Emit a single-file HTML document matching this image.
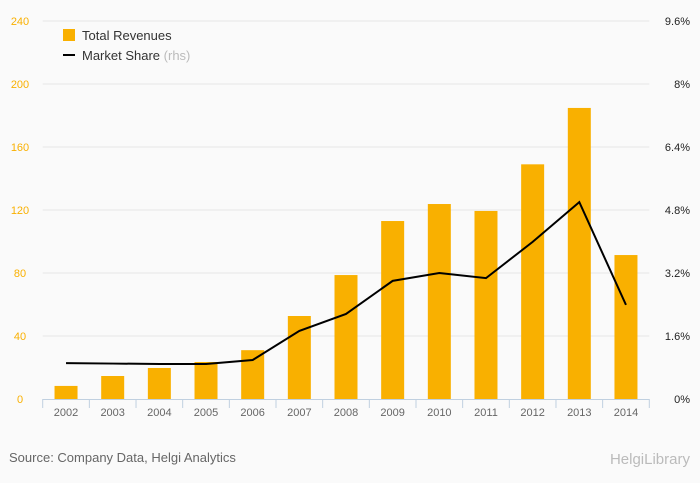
<!DOCTYPE html>
<html><head><meta charset="utf-8"><style>
body{margin:0;background:#fafafa;}
svg{display:block;font-family:"Liberation Sans",sans-serif;}
</style></head><body>
<svg id="chart" width="700" height="483">
<rect width="700" height="483" fill="#fafafa"/>
<g id="grid"></g><g id="bars"></g><g id="line"></g><g id="axes"></g>
<g>
<rect x="63" y="29" width="12" height="12" fill="#f9b000"/>
<text x="82" y="40" font-size="13" fill="#333">Total Revenues</text>
<rect x="63" y="54" width="12" height="2" fill="#000"/>
<text x="82" y="60" font-size="13" fill="#333">Market Share <tspan fill="#bbb">(rhs)</tspan></text>
</g>
<text x="9" y="462" font-size="13" fill="#666">Source: Company Data, Helgi Analytics</text>
<text x="690" y="464" font-size="15" fill="#bbb" text-anchor="end">HelgiLibrary</text>
</svg>
<script>
const categories=["2002","2003","2004","2005","2006","2007","2008","2009","2010","2011","2012","2013","2014"];
const revenues=[8.3,14.6,19.7,23.5,31,52.7,78.7,113,123.8,119.4,149,184.8,91.4];
const marketShare=[0.91,0.90,0.89,0.89,0.99,1.73,2.16,3.0,3.2,3.07,3.99,5.0,2.39];
const leftTicks=[0,40,80,120,160,200,240];
const rightTicks=["0%","1.6%","3.2%","4.8%","6.4%","8%","9.6%"];
const NS="http://www.w3.org/2000/svg";
const x0=42.7,x1=649.3,y0=399,y1=21;
const band=(x1-x0)/categories.length;
const xC=i=>x0+band*(i+0.5);
const yL=v=>y0-(v/240)*(y0-y1);
const yR=v=>y0-(v/9.6)*(y0-y1);
function mk(tag,attrs,parent){const e=document.createElementNS(NS,tag);for(const k in attrs)e.setAttribute(k,attrs[k]);document.getElementById(parent).appendChild(e);return e;}
leftTicks.forEach((t,i)=>{
  const y=yL(t);
  if(i>0){const g=mk('line',{x1:x0,x2:x1,y1:y,y2:y,stroke:'#e6e6e6','stroke-width':1},'grid');
  
  }
  const l=mk('text',{x:20,y:y+4,'font-size':11,fill:'#f9b000','text-anchor':'middle'},'axes');
  l.textContent=t;
  
  
  const r=mk('text',{x:690,y:y+4,'font-size':11,fill:'#222','text-anchor':'end'},'axes');
  r.textContent=rightTicks[i];
  
  
});
categories.forEach((c,i)=>{
  const b=mk('rect',{x:xC(i)-11.5,y:yL(revenues[i]),width:23,height:y0-yL(revenues[i]),fill:'#f9b000'},'bars');
  
  
  const t=mk('text',{x:xC(i),y:416,'font-size':11,fill:'#666','text-anchor':'middle'},'axes');
  t.textContent=c;
  
  
});
for(let i=0;i<=categories.length;i++){
  const tk=mk('line',{x1:x0+band*i,x2:x0+band*i,y1:y0,y2:408,stroke:'#c0d0e0'},'axes');
  
  
}
const ax=mk('line',{x1:x0,x2:x1,y1:y0+0.5,y2:y0+0.5,stroke:'#c0d0e0'},'axes');


const pl=mk('polyline',{points:marketShare.map((v,i)=>xC(i)+','+yR(v)).join(' '),fill:'none',stroke:'#000','stroke-width':2},'line');


</script>
</body></html>
